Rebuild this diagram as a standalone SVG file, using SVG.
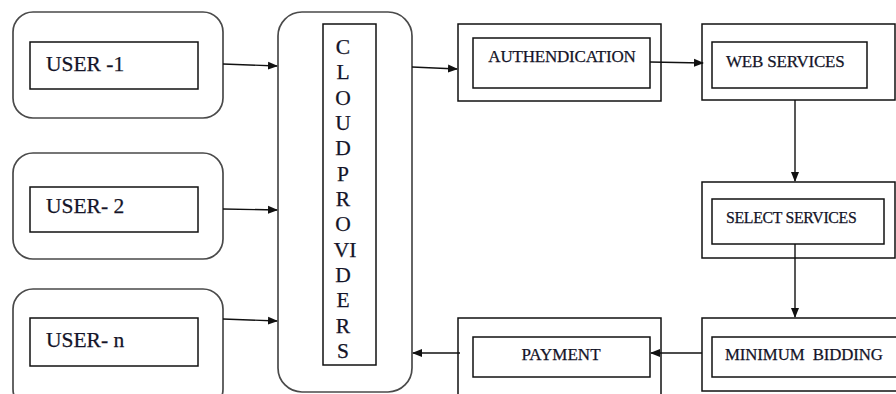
<svg xmlns="http://www.w3.org/2000/svg" width="896" height="394" viewBox="0 0 896 394">
<style>
.bg{fill:#fff}
.rnd{fill:none;stroke:#4a4a4a;stroke-width:1.7}
.box{fill:none;stroke:#111;stroke-width:1.5}
.t{fill:#141428;stroke:#141428;stroke-width:0.25}
.u{font-size:21.5px}
.c{font-size:21.5px;text-anchor:middle}
.con{stroke:#111;stroke-width:1.4;fill:none;marker-end:url(#ah)}
</style>
<defs>
<marker id="ah" markerWidth="10" markerHeight="10" refX="9" refY="5" orient="auto" markerUnits="userSpaceOnUse">
<path d="M0,1 L10,5 L0,9 Z" fill="#111"/>
</marker>
</defs>
<rect class="bg" width="896" height="394"/>
<g font-family="'Liberation Serif', 'DejaVu Serif', serif">
<g id="user1">
<rect class="rnd" x="13" y="12" width="210" height="106" rx="20"/>
<rect class="box" x="30" y="42" width="168" height="47"/>
<text class="t u" x="46" y="71">USER -1</text>
</g>
<g id="user2">
<rect class="rnd" x="13" y="153" width="210" height="106" rx="20"/>
<rect class="box" x="30" y="187" width="168" height="45"/>
<text class="t u" x="46" y="213">USER- 2</text>
</g>
<g id="usern">
<rect class="rnd" x="13" y="289" width="210" height="120" rx="20"/>
<rect class="box" x="30" y="318" width="168" height="48"/>
<text class="t u" x="46" y="347">USER- n</text>
</g>
<g id="cloud">
<rect class="rnd" x="278" y="12" width="134" height="380" rx="24"/>
<rect class="box" x="323" y="24" width="53" height="341"/>
<text class="t c" x="343" y="54">C</text>
<text class="t c" x="343" y="79">L</text>
<text class="t c" x="343" y="105">O</text>
<text class="t c" x="343" y="130">U</text>
<text class="t c" x="343" y="155">D</text>
<text class="t c" x="343" y="181">P</text>
<text class="t c" x="343" y="206">R</text>
<text class="t c" x="343" y="231">O</text>
<text class="t c" x="345" y="257">VI</text>
<text class="t c" x="343" y="282">D</text>
<text class="t c" x="343" y="307">E</text>
<text class="t c" x="343" y="333">R</text>
<text class="t c" x="343" y="358">S</text>
</g>
<g id="auth">
<rect class="box" x="458" y="24" width="203" height="77"/>
<rect class="box" x="473" y="38" width="177" height="50"/>
<text class="t" x="562" y="62" font-size="17" text-anchor="middle" letter-spacing="-0.2">AUTHENDICATION</text>
</g>
<g id="web">
<rect class="box" x="702" y="24" width="193" height="76"/>
<rect class="box" x="712" y="42" width="155" height="46"/>
<text class="t" x="726" y="67" font-size="17" letter-spacing="-0.2">WEB SERVICES</text>
</g>
<g id="select">
<rect class="box" x="702" y="182" width="193" height="76"/>
<rect class="box" x="712" y="199" width="172" height="45"/>
<text class="t" x="726" y="223" font-size="15.8" letter-spacing="-0.3">SELECT SERVICES</text>
</g>
<g id="minbid">
<rect class="box" x="702" y="318" width="200" height="73"/>
<rect class="box" x="712" y="337" width="190" height="40"/>
<text class="t" x="725" y="360" font-size="16.8" letter-spacing="-0.1" xml:space="preserve">MINIMUM  BIDDING</text>
</g>
<g id="payment">
<rect class="box" x="458" y="318" width="203" height="80"/>
<rect class="box" x="473" y="337" width="177" height="40"/>
<text class="t" x="561" y="360" font-size="17" text-anchor="middle">PAYMENT</text>
</g>
</g>
<g id="connectors">
<path class="con" d="M223,64 L277,66"/>
<path class="con" d="M223,209 L277,210"/>
<path class="con" d="M223,319 L277,321"/>
<path class="con" d="M412,67 L457,69"/>
<path class="con" d="M650,62 L703,63"/>
<path class="con" d="M795,100 L795,181"/>
<path class="con" d="M795,244 L795,317"/>
<path class="con" d="M702,353 L651,353"/>
<path class="con" d="M460,353 L413,353"/>
</g>
</svg>
